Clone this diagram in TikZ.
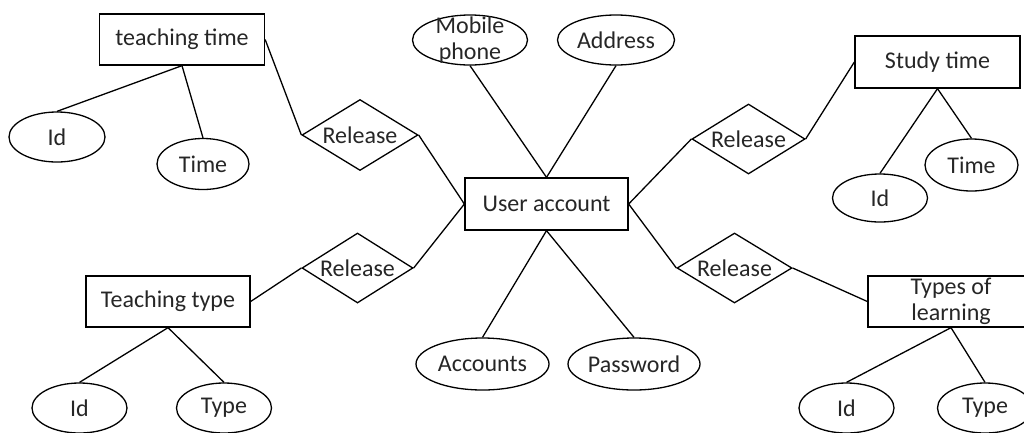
\documentclass[tikz,border=0pt]{standalone}
\usepackage{fontspec}
\setmainfont{Carlito}
\usetikzlibrary{shapes.geometric}
\begin{document}
\begin{tikzpicture}[x=1pt,y=-1pt,
  every label/.style={font=\fontsize{24}{26}\selectfont, inner sep=0pt, align=center, text=black!85},
  base/.style={draw=black, line width=1.3pt, inner sep=0pt},
  entity/.style={base, rectangle},
  attr/.style={base, ellipse},
  rel/.style={base, diamond},
  link/.style={draw=black, line width=1.3pt}]
\useasboundingbox (0,0) rectangle (1024,432);
\clip (0,0) rectangle (1024,432);

% central entity
\node[entity, minimum width=163, minimum height=52, label=center:User account] (ua) at (546.5,204) {};
\node[attr, minimum width=115, minimum height=50, label=center:{Mobile\\phone}] (mob) at (470,40) {};
\node[attr, minimum width=117, minimum height=50, label=center:Address] (addr) at (616,40) {};
\node[attr, minimum width=133, minimum height=52, label=center:Accounts] (acc) at (482.5,364) {};
\node[attr, minimum width=132, minimum height=52, label=center:Password] (pwd) at (634,364) {};

% teaching time
\node[entity, minimum width=165, minimum height=51, label=center:teaching time] (tt) at (182,39.5) {};
\node[attr, minimum width=96, minimum height=50, label=center:Id] (ttid) at (57,137) {};
\node[attr, minimum width=92, minimum height=51, label=center:Time] (tttime) at (203,164) {};
\node[rel, minimum width=116, minimum height=71, label=center:Release] (r1) at (360,135) {};

% study time
\node[entity, minimum width=165, minimum height=52, label=center:Study time] (st) at (937.5,62) {};
\node[attr, minimum width=95, minimum height=48, label=center:Id] (stid) at (880,198) {};
\node[attr, minimum width=93, minimum height=52, label=center:Time] (sttime) at (971.5,165) {};
\node[rel, minimum width=113, minimum height=70, label=center:Release] (r2) at (748.5,139) {};

% teaching type
\node[entity, minimum width=164, minimum height=51, label=center:Teaching type] (ty) at (168,301.5) {};
\node[attr, minimum width=95, minimum height=50, label=center:Id] (tyid) at (79.5,408) {};
\node[attr, minimum width=95, minimum height=50, label=center:Type] (tytype) at (224,408) {};
\node[rel, minimum width=111, minimum height=70, label=center:Release] (r3) at (357.5,268) {};

% types of learning
\node[entity, minimum width=166, minimum height=51, label=center:{Types of\\learning}] (tl) at (951,301.5) {};
\node[attr, minimum width=95, minimum height=50, label=center:Id] (tlid) at (846.5,408) {};
\node[attr, minimum width=95, minimum height=50, label=center:Type] (tltype) at (985,408) {};
\node[rel, minimum width=115, minimum height=70, label=center:Release] (r4) at (734.5,268) {};

% connectors
\draw[link] (mob.south) -- (ua.north);
\draw[link] (addr.south) -- (ua.north);
\draw[link] (ua.south) -- (acc.north);
\draw[link] (ua.south) -- (pwd.north);

\draw[link] (tt.east) -- (r1.west);
\draw[link] (r1.east) -- (ua.west);
\draw[link] (tt.south) -- (ttid.north);
\draw[link] (tt.south) -- (tttime.north);

\draw[link] (ua.east) -- (r2.west);
\draw[link] (r2.east) -- (st.west);
\draw[link] (st.south) -- (stid.north);
\draw[link] (st.south) -- (sttime.north);

\draw[link] (ty.east) -- (r3.west);
\draw[link] (r3.east) -- (ua.west);
\draw[link] (ty.south) -- (tyid.north);
\draw[link] (ty.south) -- (tytype.north);

\draw[link] (ua.east) -- (r4.west);
\draw[link] (r4.east) -- (tl.west);
\draw[link] (tl.south) -- (tlid.north);
\draw[link] (tl.south) -- (tltype.north);
\end{tikzpicture}
\end{document}
